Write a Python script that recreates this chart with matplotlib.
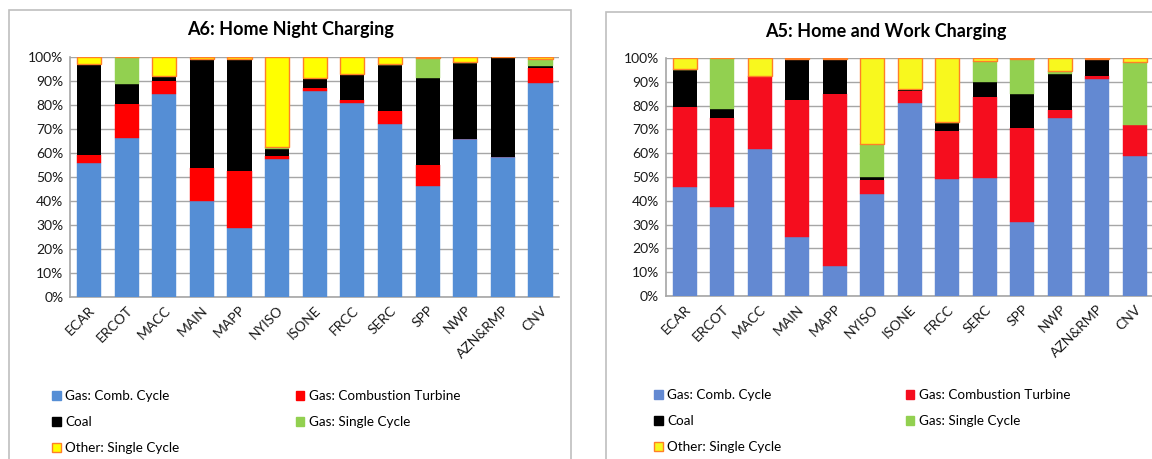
import matplotlib.pyplot as plt
from matplotlib.patches import Rectangle, Patch
from matplotlib.ticker import PercentFormatter
import numpy as np

plt.rcParams['font.family'] = ['Lato', 'DejaVu Sans']

regions = ["ECAR", "ERCOT", "MACC", "MAIN", "MAPP", "NYISO", "ISONE",
           "FRCC", "SERC", "SPP", "NWP", "AZN&RMP", "CNV"]
fuels = ["Gas: Comb. Cycle", "Gas: Combustion Turbine", "Coal",
         "Gas: Single Cycle", "Other: Single Cycle"]

# A6: Home Night Charging (share of charging energy, %)
night_comb_cycle = [56.0, 66.4, 84.4, 39.9, 28.9, 57.6, 85.8, 80.8, 72.2, 46.3, 66.0, 58.3, 89.2]
night_comb_turb = [3.0, 14.2, 5.5, 13.7, 23.5, 1.0, 1.1, 1.1, 5.4, 8.6, 0.0, 0.0, 6.4]
night_coal = [37.9, 8.3, 2.3, 45.4, 46.6, 2.9, 4.3, 11.2, 19.1, 36.2, 31.5, 41.5, 0.6]
night_single = [0.3, 11.1, 0.0, 0.0, 0.0, 1.0, 0.0, 0.0, 0.4, 8.4, 0.4, 0.0, 3.1]
night_other = [2.8, 0.0, 7.8, 1.0, 1.0, 37.5, 8.8, 6.9, 2.9, 0.5, 2.1, 0.2, 0.7]

# A5: Home and Work Charging (%)
work_comb_cycle = [46.0, 37.2, 61.9, 24.8, 12.5, 42.9, 81.1, 49.1, 49.6, 31.0, 74.6, 91.2, 58.9]
work_comb_turb = [33.5, 37.4, 30.7, 57.7, 72.4, 5.9, 5.2, 20.3, 33.9, 39.7, 3.4, 1.4, 12.8]
work_coal = [15.6, 4.1, 0.0, 17.1, 14.7, 1.4, 0.8, 3.4, 6.4, 14.3, 15.3, 7.1, 0.0]
work_single = [0.4, 21.3, 0.0, 0.0, 0.0, 13.6, 0.0, 0.3, 8.8, 14.7, 1.2, 0.0, 26.5]
work_other = [4.5, 0.0, 7.4, 0.4, 0.4, 36.2, 12.9, 26.9, 1.3, 0.3, 5.5, 0.3, 1.8]

W, H = 1152, 459
fig = plt.figure(figsize=(W / 100, H / 100), dpi=100)

# panel frames (pixel coords -> figure fraction)
for x0, x1, y0 in [(9, 571, 10), (606, 1170, 12)]:
    fig.patches.append(Rectangle((x0 / W, -0.05), (x1 - x0) / W, 1.05 - y0 / H,
                                 transform=fig.transFigure, fill=False,
                                 edgecolor='#BFBFBF', linewidth=1.2))


def draw_panel(rect, title, title_xy, series, colors, legend_anchor, colsp):
    ax = fig.add_axes(rect)
    x = np.arange(len(regions))
    bottom = np.zeros(len(regions))
    for vals, name, col in zip(series, fuels, colors):
        vals = np.array(vals)
        if name.startswith("Other"):
            ec, lw = '#FF7F27', 1.0
        elif col == 'black':
            ec, lw = 'black', 0.0
        else:
            ec, lw = col, 0.3
        ax.bar(x, vals / 100, bottom=bottom / 100, width=0.64, color=col,
               edgecolor=ec, linewidth=lw, zorder=3)
        bottom += vals
    ax.set_xlim(-0.5, len(regions) - 0.5)
    ax.set_ylim(0, 1)
    ax.set_yticks(np.arange(0, 1.01, 0.1))
    ax.yaxis.set_major_formatter(PercentFormatter(1.0, decimals=0))
    ax.set_xticks(x)
    ax.set_xticklabels(regions, rotation=45, ha='right', rotation_mode='anchor')
    ax.tick_params(length=0, labelsize=10, colors='#1a1a1a', pad=5)
    ax.grid(axis='y', color='#A6A6A6', linewidth=1.0, zorder=0)
    ax.set_axisbelow(True)
    for s in ['top', 'right']:
        ax.spines[s].set_visible(False)
    for s in ['left', 'bottom']:
        ax.spines[s].set_color('#A6A6A6')
        ax.spines[s].set_linewidth(1.2)
    fig.text(title_xy[0] / W, 1 - title_xy[1] / H, title, ha='center', va='center',
             fontsize=13, fontweight='bold')

    handles = []
    for name, col in zip(fuels, colors):
        if name.startswith("Other"):
            handles.append(Patch(facecolor=col, edgecolor='#FF7F27', linewidth=1.0, label=name))
        else:
            handles.append(Patch(facecolor=col, edgecolor=col, label=name))
    # column-wise fill: col 1 = Comb. Cycle, Coal, Other; col 2 = CT, Single Cycle
    order = [0, 2, 4, 1, 3]
    fig.legend([handles[i] for i in order], [fuels[i] for i in order],
               loc='upper left', bbox_to_anchor=legend_anchor, ncol=2,
               frameon=False, fontsize=9.7, handlelength=0.65, handleheight=0.65,
               handletextpad=0.35, labelspacing=1.05, columnspacing=colsp,
               borderpad=0, borderaxespad=0)
    return ax


left_colors = ['#558ED5', '#FF0000', 'black', '#92D050', '#FFFF00']
right_colors = ['#6389D2', '#F50D1E', 'black', '#92D050', '#F8F81E']

draw_panel([70.2 / W, 1 - 297 / H, 489.1 / W, 240 / H], "A6: Home Night Charging", (290, 30),
           [night_comb_cycle, night_comb_turb, night_coal, night_single, night_other],
           left_colors, (52 / W, 1 - 390 / H), 8.6)
draw_panel([666 / W, 1 - 296 / H, 487.5 / W, 238 / H], "A5: Home and Work Charging", (886, 31),
           [work_comb_cycle, work_comb_turb, work_coal, work_single, work_other],
           right_colors, (654 / W, 1 - 389 / H), 9.2)

fig.savefig("out.png", dpi=100)
